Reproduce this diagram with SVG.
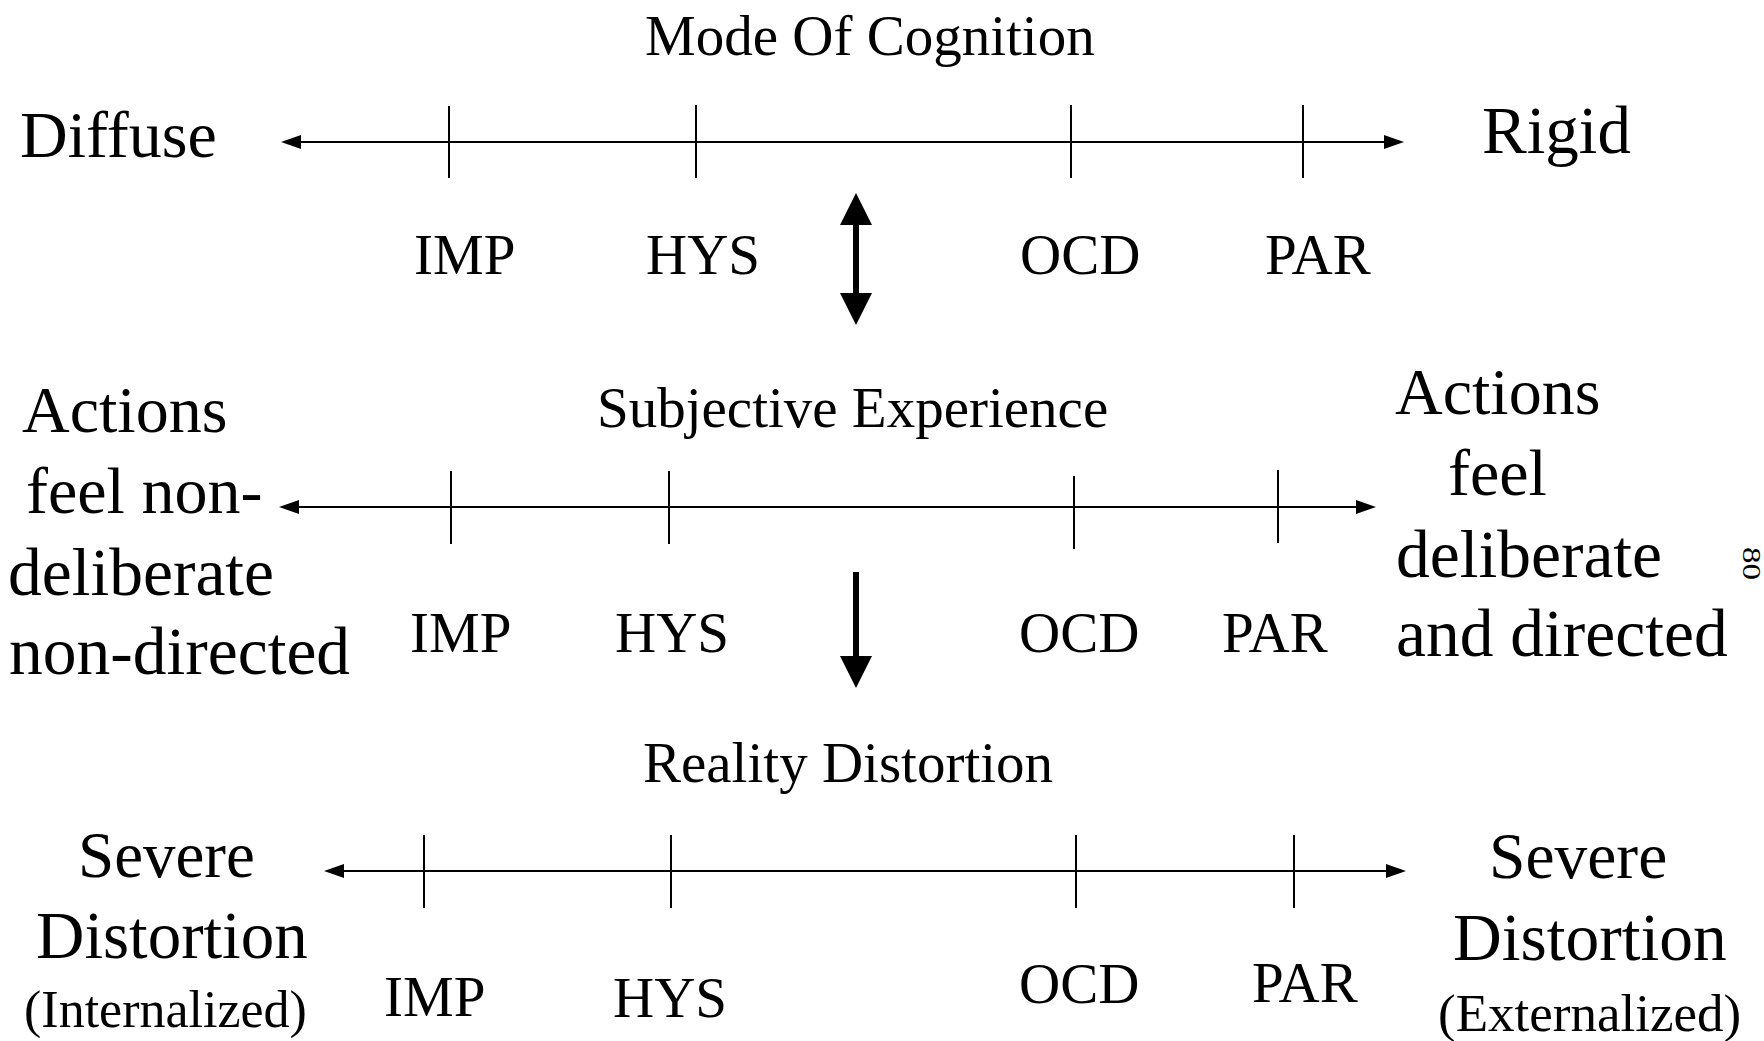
<svg xmlns="http://www.w3.org/2000/svg" width="1764" height="1041" viewBox="0 0 1764 1041">
  <style>
    text { font-family: "Liberation Serif", "Times New Roman", serif; fill: #000; }
    .title { font-size: 57px; }
    .sub { font-size: 57px; }
    .end { font-size: 66px; }
    .wide { font-size: 67.5px; }
    .paren { font-size: 52px; }
    .lab { font-size: 57px; }
    .pg { font-size: 25px; }
    .axis { stroke: #000; stroke-width: 2.2; fill: none; }
    .tick { stroke: #000; stroke-width: 2; fill: none; }
    .big { stroke: #000; stroke-width: 6; fill: none; }
  </style>
  <defs>
    <marker id="small" viewBox="0 0 20 14" refX="2" refY="7" markerWidth="20" markerHeight="14" markerUnits="userSpaceOnUse" orient="auto-start-reverse">
      <path d="M0,0 L20,7 L0,14 z" fill="#000"/>
    </marker>
    <marker id="bighead" viewBox="0 0 32 32" refX="2" refY="16" markerWidth="32" markerHeight="32" markerUnits="userSpaceOnUse" orient="auto-start-reverse">
      <path d="M0,0 L32,16 L0,32 z" fill="#000"/>
    </marker>
  </defs>

  <g id="connectors">
    <!-- Row 1 axis -->
    <line class="axis" x1="299" y1="142" x2="1386" y2="142" marker-start="url(#small)" marker-end="url(#small)"/>
    <line class="tick" x1="449" y1="106" x2="449" y2="178"/>
    <line class="tick" x1="696" y1="105" x2="696" y2="178"/>
    <line class="tick" x1="1071" y1="105" x2="1071" y2="178"/>
    <line class="tick" x1="1303" y1="105" x2="1303" y2="178"/>
    <!-- Row 2 axis -->
    <line class="axis" x1="297" y1="507" x2="1358" y2="507" marker-start="url(#small)" marker-end="url(#small)"/>
    <line class="tick" x1="451" y1="471" x2="451" y2="544"/>
    <line class="tick" x1="669" y1="471" x2="669" y2="544"/>
    <line class="tick" x1="1074" y1="476" x2="1074" y2="549"/>
    <line class="tick" x1="1278" y1="470" x2="1278" y2="543"/>
    <!-- Row 3 axis -->
    <line class="axis" x1="342" y1="871" x2="1388" y2="871" marker-start="url(#small)" marker-end="url(#small)"/>
    <line class="tick" x1="424" y1="835" x2="424" y2="908"/>
    <line class="tick" x1="671" y1="835" x2="671" y2="908"/>
    <line class="tick" x1="1076" y1="835" x2="1076" y2="908"/>
    <line class="tick" x1="1294" y1="835" x2="1294" y2="908"/>
    <!-- Vertical arrows -->
    <line class="big" x1="856" y1="223" x2="856" y2="295" marker-start="url(#bighead)" marker-end="url(#bighead)"/>
    <line class="big" x1="856" y1="572" x2="856" y2="658" marker-end="url(#bighead)"/>
  </g>

  <g id="row-cognition">
    <text class="title" x="645" y="55">Mode Of Cognition</text>
    <text class="end" x="20" y="157">Diffuse</text>
    <text class="end" x="1482" y="153" style="font-size:67px">Rigid</text>
    <text class="lab" x="414" y="274">IMP</text>
    <text class="lab" x="646" y="274">HYS</text>
    <text class="lab" x="1020" y="274">OCD</text>
    <text class="lab" x="1265" y="274">PAR</text>
  </g>

  <g id="row-subjective">
    <text class="sub" x="597" y="427">Subjective Experience</text>
    <text class="end" x="22" y="432">Actions</text>
    <text class="end" x="26" y="513">feel non-</text>
    <text class="wide" x="8" y="595">deliberate</text>
    <text class="wide" x="9" y="674">non-directed</text>
    <text class="end" x="1395" y="414">Actions</text>
    <text class="end" x="1448" y="495">feel</text>
    <text class="wide" x="1396" y="577">deliberate</text>
    <text class="wide" x="1396" y="656">and directed</text>
    <text class="lab" x="410" y="652">IMP</text>
    <text class="lab" x="615" y="652">HYS</text>
    <text class="lab" x="1019" y="652">OCD</text>
    <text class="lab" x="1222" y="652">PAR</text>
  </g>

  <g id="row-reality">
    <text class="title" x="643" y="782">Reality Distortion</text>
    <text class="end" x="78" y="877" style="font-size:65px">Severe</text>
    <text class="end" x="36" y="958" style="font-size:67px">Distortion</text>
    <text class="paren" x="24" y="1027">(Internalized)</text>
    <text class="end" x="1489" y="878" style="font-size:65.5px">Severe</text>
    <text class="end" x="1453" y="960" style="font-size:67.5px">Distortion</text>
    <text class="paren" x="1438" y="1031" style="font-size:53px">(Externalized)</text>
    <text class="lab" x="384" y="1016">IMP</text>
    <text class="lab" x="613" y="1017">HYS</text>
    <text class="lab" x="1019" y="1003">OCD</text>
    <text class="lab" x="1252" y="1002">PAR</text>
  </g>

  <g id="page-number">
    <text class="pg" transform="translate(1743,547) rotate(90)" x="0" y="0" textLength="33" lengthAdjust="spacingAndGlyphs">80</text>
  </g>
</svg>
